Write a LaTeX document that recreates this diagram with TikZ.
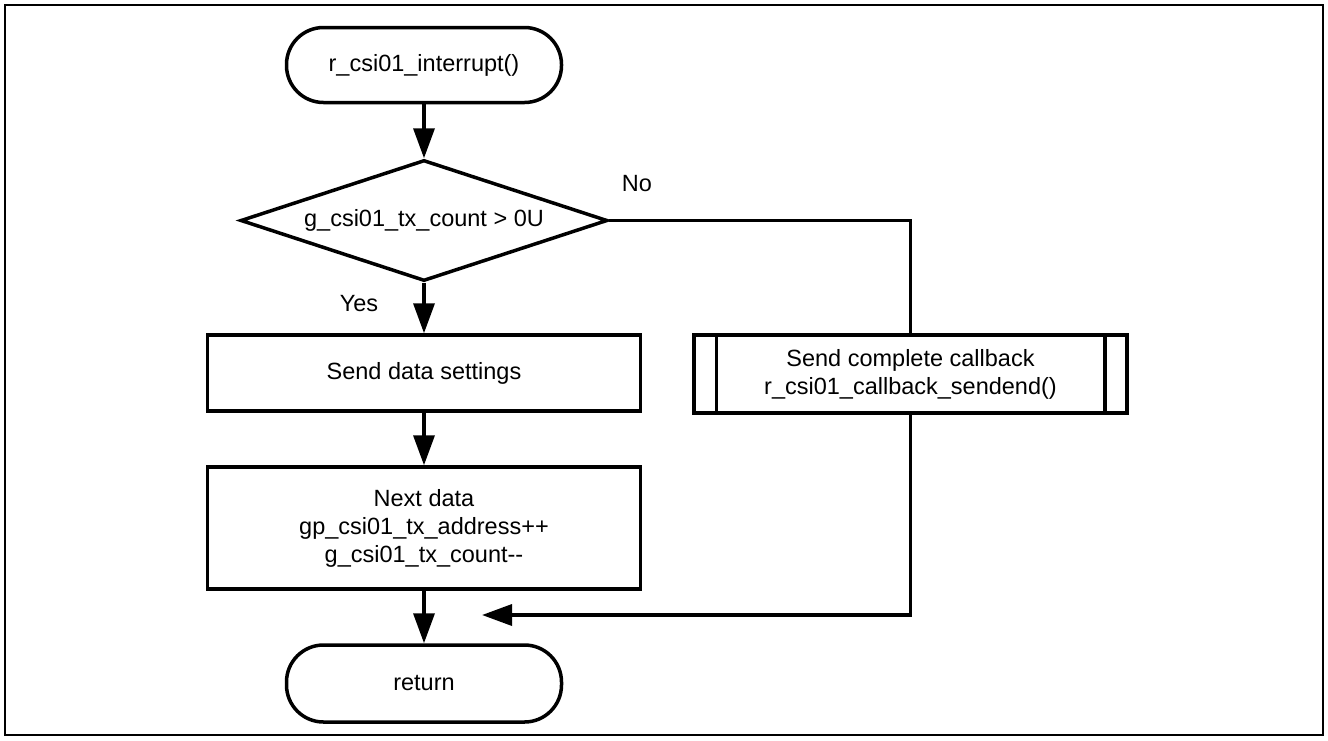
\documentclass[tikz,border=0pt]{standalone}
\usepackage{fontspec}
\setmainfont{Liberation Sans}
\usetikzlibrary{shapes.geometric,arrows.meta}

\tikzset{
    flow/.style={draw, line width=3.5pt, align=center, inner sep=0pt},
    terminal/.style={flow, rectangle, rounded corners=37pt, minimum width=275pt, minimum height=75pt},
    decision/.style={flow, diamond, aspect=3, minimum width=367pt, minimum height=121pt},
    process/.style={flow, rectangle, minimum width=433pt},
    arrow/.style={line width=3.5pt, -{Triangle[length=30pt,width=21pt]}},
    link/.style={line width=3.5pt}
}

\begin{document}
\begin{tikzpicture}[x=1pt, y=-1pt, font=\fontsize{23.5}{28}\selectfont]
    \useasboundingbox (0, 0) rectangle (1328, 740);
    \draw[line width=2.5pt] (5, 5) rectangle (1323, 735);

    \node[terminal] (start) at (424, 65) {r\_csi01\_interrupt()};
    \node[decision] (check) at (424, 220.5) {g\_csi01\_tx\_count > 0U};
    \node[process, minimum height=76pt] (setdata) at (424, 373) {Send data settings};
    \node[process, minimum height=122pt] (nextdata) at (424, 528)
        {Next data\\gp\_csi01\_tx\_address++\\g\_csi01\_tx\_count-{}-};
    \node[terminal, minimum height=77pt] (ret) at (424, 683.5) {return};
    \node[process, minimum height=78pt] (callback) at (910.5, 374)
        {Send complete callback\\r\_csi01\_callback\_sendend()};
    \draw[link] ([xshift=24pt]callback.north west) -- ([xshift=24pt]callback.south west);
    \draw[link] ([xshift=-24pt]callback.north east) -- ([xshift=-24pt]callback.south east);

    \coordinate (merge) at (482, 615);

    \draw[arrow] (start) -- (check);
    \draw[arrow] (check) -- (setdata);
    \draw[arrow] (setdata) -- (nextdata);
    \draw[arrow] (nextdata) -- (ret);
    \draw[link] (check.east) -| (callback.north);
    \draw[arrow] (callback.south) |- (merge);

    \node (yes) at (359, 304) {Yes};
    \node (no) at (637, 184) {No};
\end{tikzpicture}
\end{document}
